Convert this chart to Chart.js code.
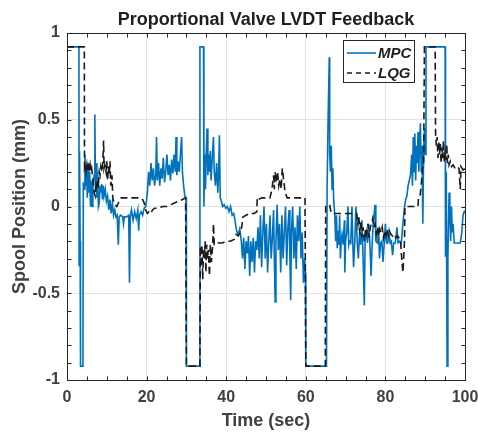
<!DOCTYPE html>
<html lang="en">
  <head>
    <meta charset="UTF-8">
    <title>Proportional Valve LVDT Feedback</title>
    <script src="https://cdn.jsdelivr.net/npm/chart.js"></script>
    <style>
      body { margin: 0; background: #fff; }
    </style>
  </head>
  <body>
    <canvas id="grafico" width="478" height="432"></canvas>

    <script>
      // time (s) and spool position (mm)
      const mpcT = [0, 0.05, 3.0, 3.05, 3.15, 3.3, 3.4, 4.0, 4.1, 4.3, 4.5, 4.7, 4.9, 5.1, 5.3, 5.5, 5.7, 5.9, 6.1, 6.3, 6.5, 6.8, 7.0, 7.15, 7.3, 7.5, 7.7, 7.9, 8.1, 8.3, 8.5, 8.7, 8.9, 9.1, 9.3, 9.6, 9.9,
        10.2, 10.5, 10.8, 11.1, 11.4, 11.7, 12.0, 12.3, 12.6, 12.9, 13.1, 13.5, 14.0, 14.2, 14.4, 15.0, 15.5, 15.7, 15.9, 16.2, 16.6, 17.0, 17.4, 17.8, 18.0, 18.2, 18.6, 19.0, 19.4, 19.8,
        20.2, 20.5, 20.8, 21.1, 21.4, 21.7, 22.0, 22.3, 22.5, 22.7, 23.0, 23.3, 23.6, 23.9, 24.2, 24.5, 24.8, 25.1, 25.4, 25.7, 26.0, 26.3, 26.6, 26.9, 27.2, 27.4, 27.6, 27.9, 28.2, 28.5, 28.8, 29.0, 29.3, 29.6, 29.9,
        30.0, 33.3, 33.4, 34.3, 34.4, 34.6, 34.8, 35.0, 35.2, 35.4, 35.6, 35.8, 36.0, 36.2, 36.5, 36.8, 37.0, 37.3, 37.6, 37.9, 38.1, 38.3, 38.5, 38.8, 39.1, 39.5, 39.9,
        40.3, 40.7, 41.1, 41.5, 41.9, 42.2, 42.6, 43.0, 43.4, 43.8, 44.1, 44.4, 44.7, 45.0, 45.3, 45.6, 45.9, 46.2, 46.5, 46.8, 47.1, 47.4, 47.7, 48.0, 48.3, 48.6, 48.9, 49.2, 49.5, 49.8,
        50.1, 50.4, 50.7, 51.0, 51.3, 51.6, 51.9, 52.1, 52.3, 52.5, 52.8, 53.1, 53.4, 53.7, 54.0, 54.3, 54.6, 54.9, 55.2, 55.5, 55.8, 56.0, 56.2, 56.4, 56.7, 57.0, 57.3, 57.6, 57.9, 58.2, 58.5, 58.8, 59.1, 59.4, 59.7, 59.9,
        60.0, 65.2, 65.35, 65.6, 65.9, 66.0, 66.2, 66.4, 66.6, 66.8, 67.0, 67.3, 67.5, 67.7, 67.9, 68.1, 68.3, 68.5, 68.7, 68.9, 69.1, 69.4, 69.7, 69.8,
        70.0, 70.3, 70.6, 70.8, 71.0, 71.3, 71.6, 71.8, 72.0, 72.3, 72.6, 72.9, 73.2, 73.5, 73.8, 74.1, 74.4, 74.7, 74.9, 75.2, 75.5, 75.8, 76.1, 76.4, 76.7, 77.0, 77.4, 77.6, 78.0, 78.3, 78.5, 78.8, 79.1, 79.4, 79.7,
        80.0, 80.3, 80.6, 80.9, 81.2, 81.5, 81.8, 82.1, 82.5, 82.9, 83.2, 83.6, 84.0, 84.4, 84.8, 85.1, 85.4, 85.7, 86.0, 86.3, 86.6, 86.8, 87.0, 87.2, 87.4, 87.6, 87.8, 88.0, 88.2, 88.4, 88.6, 88.8, 89.0, 89.2, 89.4, 89.6, 89.8,
        90.0, 90.2, 95.0, 95.1, 95.3, 95.5, 95.7, 96.0, 96.2, 96.4, 96.6, 96.8, 97.0, 97.3, 97.6, 98.0, 98.4, 98.8, 99.2, 99.5, 99.8, 100];
      const mpcV = [-0.06, 0.92, 0.92, -0.34, 0.32, -0.2, -0.92, -0.92, 0.14, 0.1, 0.3, 0.12, 0.22, 0.05, 0.25, 0.08, 0.2, 0.0, 0.15, 0.0, 0.1, 0.18, 0.53, 0.1, 0.25, 0.05, 0.2, 0.0, 0.02, 0.12, 0.08, 0.13, 0.04, 0.12, 0.06, 0.1, 0.03,
        0.06, -0.02, 0.04, -0.04, 0.02, -0.05, -0.02, -0.06, -0.05, -0.22, -0.06, -0.05, -0.06, -0.1, -0.06, -0.06, -0.05, -0.44, -0.06, -0.02, -0.08, -0.03, -0.07, -0.02, -0.14, -0.05, -0.03, -0.05, -0.01, 0.0,
        0.08, 0.2, 0.12, 0.25, 0.15, 0.22, 0.12, 0.18, 0.4, 0.15, 0.25, 0.12, 0.22, 0.16, 0.28, 0.14, 0.2, 0.3, 0.18, 0.24, 0.15, 0.27, 0.19, 0.3, 0.2, 0.4, 0.18, 0.26, 0.2, 0.3, 0.4, 0.2, 0.12, 0.06, 0.05,
        -0.92, -0.92, 0.92, 0.92, 0.0, 0.3, 0.1, 0.33, 0.45, 0.18, 0.3, 0.2, 0.32, 0.15, 0.28, 0.4, 0.2, 0.12, 0.25, 0.08, 0.2, 0.41, 0.05, 0.03, 0.0, 0.01, -0.01,
        0.0, -0.03, 0.0, -0.05, -0.04, -0.08, -0.14, -0.16, -0.13, -0.2, -0.3, -0.18, -0.36, -0.2, -0.27, -0.17, -0.4, -0.2, -0.32, -0.18, -0.38, -0.2, -0.25, -0.12, -0.3, -0.05, -0.35, -0.15, 0.0, -0.3,
        -0.1, -0.38, -0.2, -0.05, -0.3, -0.18, -0.02, -0.3, -0.55, -0.2, 0.01, -0.25, -0.1, -0.38, -0.05, -0.3, -0.15, 0.0, -0.34, -0.12, -0.02, -0.28, -0.54, -0.15, 0.0, -0.3, -0.12, -0.36, -0.05, -0.2, 0.0, -0.3, -0.15, -0.44, -0.3, -0.38,
        -0.92, -0.92, 0.1, 0.5, 0.86, 0.3, 0.2, 0.35, 0.1, 0.22, 0.04, -0.06, -0.2, -0.05, -0.24, -0.14, -0.22, -0.05, -0.3, -0.2, -0.16, -0.22, -0.08, -0.38,
        -0.2, -0.15, 0.0, -0.22, -0.2, -0.21, 0.0, -0.2, -0.35, -0.21, 0.0, -0.2, -0.3, -0.15, -0.22, -0.08, -0.3, -0.57, -0.2, -0.15, -0.21, -0.1, -0.21, -0.4, -0.2, -0.08, 0.01, -0.2, -0.21, -0.12, -0.3, -0.21, -0.2, -0.32, -0.21,
        -0.1, -0.21, -0.21, -0.15, -0.21, -0.2, -0.28, -0.21, -0.21, -0.12, -0.21, -0.2, -0.21, -0.1, 0.0, 0.04, 0.06, 0.12, 0.15, 0.18, 0.3, 0.12, 0.4, 0.2, 0.42, 0.15, 0.35, 0.25, 0.43, 0.2, 0.38, 0.48, 0.2, 0.35, -0.1, 0.3, 0.45,
        0.3, 0.92, 0.92, -0.29, 0.2, -0.92, -0.3, 0.08, -0.05, -0.2, 0.0, -0.15, -0.1, -0.21, -0.21, -0.21, -0.21, -0.21, -0.15, -0.05, -0.03, -0.04];

      const lqgT = [0, 4.35, 4.4, 4.6, 4.8, 5.0, 5.2, 5.4, 5.6, 5.8, 6.0, 6.2, 6.4, 6.6, 6.8, 7.1, 7.3, 7.5, 7.7, 7.9, 8.1, 8.3, 8.5, 8.8, 9.0, 9.2, 9.3, 9.5, 9.8,
        10.0, 10.2, 10.4, 10.6, 10.8, 11.0, 11.3, 11.5, 11.8, 12.1, 12.5, 12.9, 13.2, 13.6, 14.5, 15.5, 16.5, 17.5, 18.5, 19.0, 19.4, 19.8,
        20.2, 20.6, 21.0, 21.5, 22.0, 23.0, 24.0, 25.0, 26.0, 27.0, 28.0, 29.0, 29.8,
        30.0, 33.4, 33.5, 33.7, 33.9, 34.1, 34.3, 34.5, 34.7, 34.9, 35.1, 35.3, 35.5, 35.8, 36.0, 36.3, 36.6, 36.8, 37.0, 37.5, 38.0, 39.0,
        40.0, 41.0, 42.0, 42.5, 43.0, 43.5, 43.9, 44.2, 45.0, 46.0, 47.0, 47.7, 47.8, 48.0, 49.0,
        50.0, 51.0, 51.3, 51.6, 51.9, 52.1, 52.3, 52.6, 52.9, 53.2, 53.5, 53.8, 54.1, 54.4, 54.7, 55.0, 55.3, 56.0, 57.0, 58.0, 59.0, 59.8,
        60.0, 64.9, 65.0, 65.5, 66.0, 66.3, 66.6, 68.0,
        70.0, 72.0, 72.8, 73.1, 73.3, 73.6, 73.8, 74.1, 74.4, 74.7, 75.0, 75.3, 75.6, 75.9, 76.2, 76.5, 76.8, 77.1, 77.4, 77.7, 78.0, 78.3, 78.6, 78.9, 79.2, 79.5, 79.8,
        80.1, 80.4, 80.7, 81.0, 81.4, 81.8, 82.2, 82.6, 83.0, 83.4, 83.8, 84.1, 84.4, 84.8, 84.9, 86.0, 87.0, 88.2, 88.3, 88.7, 89.0, 89.3, 89.6, 89.8,
        92.5, 92.6, 92.8, 93.0, 93.2, 93.4, 93.6, 93.8, 94.0, 94.2, 94.4, 94.6, 94.8, 95.0, 95.2, 95.4, 95.6, 95.8, 96.0, 96.3, 96.6, 97.0, 97.5, 98.0, 98.5, 98.8, 99.0, 99.5, 100];
      const lqgV = [0.92, 0.92, 0.23, 0.25, 0.2, 0.24, 0.2, 0.23, 0.21, 0.24, 0.2, 0.22, 0.18, 0.12, 0.08, 0.06, 0.12, 0.1, 0.15, 0.13, 0.2, 0.18, 0.23, 0.2, 0.26, 0.38, 0.22, 0.24, 0.2,
        0.26, 0.15, 0.23, 0.18, 0.26, 0.12, 0.18, 0.05, 0.02, 0.01, 0.0, 0.02, 0.04, 0.05, 0.05, 0.05, 0.05, 0.05, 0.05, 0.04, 0.02, -0.02,
        -0.04, -0.03, -0.04, -0.02, -0.01, -0.01, 0.0, 0.0, 0.01, 0.02, 0.03, 0.04, 0.05,
        -0.92, -0.92, -0.23, -0.35, -0.22, -0.42, -0.25, -0.3, -0.2, -0.38, -0.22, -0.3, -0.25, -0.4, -0.22, -0.32, -0.22, -0.1, -0.22, -0.22, -0.21, -0.21,
        -0.2, -0.2, -0.19, -0.16, -0.17, -0.15, -0.12, -0.06, -0.05, -0.04, -0.04, -0.03, 0.05, 0.04, 0.05,
        0.05, 0.05, 0.08, 0.12, 0.18, 0.1, 0.2, 0.14, 0.2, 0.12, 0.16, 0.1, 0.22, 0.16, 0.1, 0.07, 0.05, 0.05, 0.05, 0.05, 0.05, 0.05,
        -0.92, -0.92, 0.0, 0.01, 0.01, -0.03, -0.04, -0.04,
        -0.04, -0.04, -0.04, -0.1, -0.05, -0.16, -0.08, -0.18, -0.12, -0.2, -0.13, -0.16, -0.1, -0.18, -0.12, -0.1, -0.07, -0.12, -0.1, -0.16, -0.12, -0.17, -0.13, -0.15, -0.12, -0.18, -0.14,
        -0.17, -0.13, -0.17, -0.14, -0.16, -0.17, -0.16, -0.18, -0.17, -0.18, -0.2, -0.3, -0.38, -0.2, 0.0, 0.0, 0.0, 0.0, 0.05, 0.06, 0.12, 0.22, 0.23, 0.92,
        0.92, 0.42, 0.35, 0.4, 0.28, 0.38, 0.3, 0.36, 0.25, 0.34, 0.28, 0.38, 0.26, 0.32, 0.27, 0.36, 0.25, 0.3, 0.24, 0.26, 0.23, 0.24, 0.22, 0.23, 0.22, 0.1, 0.23, 0.21, 0.22];

      const xTicks = [0, 20, 40, 60, 80, 100];
      const yTicks = [-1, -0.5, 0, 0.5, 1];

      const titulo = 'Proportional Valve LVDT Feedback';
      const fonte = '"Liberation Sans", Arial, Helvetica, sans-serif';
      const corEixo = '#262626';
      const corTexto = '#404040';

      // MATLAB-like frame: box, inward ticks, title and boxed legend
      const molduraMatlab = {
        id: 'molduraMatlab',
        afterDraw(chart) {
          const { ctx, chartArea: a, scales } = chart;
          const L = Math.round(a.left) + 0.5, R = Math.round(a.right) + 0.5;
          const T = Math.round(a.top) + 0.5, B = Math.round(a.bottom) + 0.5;
          ctx.save();
          ctx.strokeStyle = corEixo;
          ctx.lineWidth = 1;
          ctx.setLineDash([]);
          ctx.strokeRect(L, T, R - L, B - T);

          ctx.beginPath();
          for (let t = 0; t <= 100; t += 5) {
            const x = Math.round(scales.x.getPixelForValue(t)) + 0.5;
            ctx.moveTo(x, B); ctx.lineTo(x, B - 4);
            ctx.moveTo(x, T); ctx.lineTo(x, T + 4);
          }
          for (let i = -10; i <= 10; i++) {
            const y = Math.round(scales.y.getPixelForValue(i / 10)) + 0.5;
            ctx.moveTo(L, y); ctx.lineTo(L + 4, y);
            ctx.moveTo(R, y); ctx.lineTo(R - 4, y);
          }
          ctx.stroke();

          // title
          ctx.fillStyle = '#1f1f1f';
          ctx.font = 'bold 18px ' + fonte;
          ctx.textAlign = 'center';
          ctx.textBaseline = 'alphabetic';
          ctx.fillText(titulo, (a.left + a.right) / 2, 24.5);

          // legend
          const lx = 343.5, ly = 40.5, lw = 71, lh = 42;
          ctx.fillStyle = '#fff';
          ctx.fillRect(lx, ly, lw, lh);
          ctx.strokeStyle = corEixo;
          ctx.strokeRect(lx, ly, lw, lh);
          ctx.font = 'italic bold 15px ' + fonte;
          ctx.textAlign = 'left';
          ctx.textBaseline = 'middle';
          chart.data.datasets.forEach((ds, i) => {
            const yy = 53 + i * 20;
            ctx.strokeStyle = ds.borderColor;
            ctx.lineWidth = ds.borderWidth;
            ctx.setLineDash(i === 1 ? [5, 4] : []);
            ctx.beginPath();
            ctx.moveTo(347, yy); ctx.lineTo(376, yy);
            ctx.stroke();
            ctx.fillStyle = '#1f1f1f';
            ctx.fillText(ds.label, 378, yy + 1);
          });
          ctx.restore();
        }
      };

      const pares = (ts, vs) => ts.map((t, i) => ({ x: t, y: vs[i] }));

      new Chart(document.getElementById('grafico'), {
        type: 'scatter',
        data: {
          datasets: [{
            label: 'MPC',
            data: pares(mpcT, mpcV),
            showLine: true,
            borderColor: '#0072BD',
            borderWidth: 1.6,
            pointRadius: 0,
            order: 2
          }, {
            label: 'LQG',
            data: pares(lqgT, lqgV),
            showLine: true,
            borderColor: '#1a1a1a',
            borderWidth: 1.6,
            borderDash: [7, 4],
            pointRadius: 0,
            order: 1
          }]
        },
        options: {
          responsive: false,
          animation: false,
          layout: { padding: { top: 33, right: 13, left: 0, bottom: 0 } },
          plugins: {
            legend: { display: false },
            title: { display: false },
            tooltip: { enabled: false }
          },
          scales: {
            x: {
              type: 'linear',
              min: 0,
              max: 100,
              afterFit: s => { s.height = 52; s.paddingLeft = 0; s.paddingRight = 0; },
              afterBuildTicks: s => { s.ticks = xTicks.map(v => ({ value: v })); },
              ticks: { font: { family: fonte, weight: 'bold', size: 16 }, color: corTexto, padding: 8, maxRotation: 0, callback: v => String(v) },
              grid: { color: '#e2e2e2', drawTicks: false },
              border: { display: true, color: corEixo },
              title: { display: true, text: 'Time (sec)', font: { family: fonte, weight: 'bold', size: 18 }, color: corTexto, padding: { top: 0, bottom: 0 } }
            },
            y: {
              min: -1,
              max: 1,
              afterFit: s => { s.width = 67; s.paddingTop = 0; s.paddingBottom = 0; },
              afterBuildTicks: s => { s.ticks = yTicks.map(v => ({ value: v })); },
              ticks: { font: { family: fonte, weight: 'bold', size: 16 }, color: corTexto, padding: 7, callback: v => String(v) },
              grid: { color: '#e2e2e2', drawTicks: false },
              border: { display: true, color: corEixo },
              title: { display: true, text: 'Spool Position (mm)', font: { family: fonte, weight: 'bold', size: 18 }, color: corTexto, padding: { top: 9, bottom: 0 } }
            }
          }
        },
        plugins: [molduraMatlab]
      });
    </script>
  </body>
</html>
